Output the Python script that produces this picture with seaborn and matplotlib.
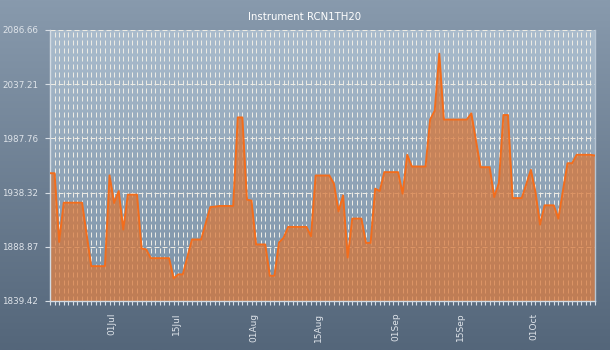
import numpy as np
import pandas as pd
import matplotlib
matplotlib.use("Agg")
import matplotlib.pyplot as plt
import matplotlib.dates as mdates
from matplotlib.ticker import FixedLocator
from matplotlib.transforms import ScaledTranslation
from matplotlib.colors import LinearSegmentedColormap
import seaborn as sns

# ---- data -------------------------------------------------------------
title = "Instrument RCN1TH20"
start_date = "2010-06-18"
values = [
    1956.0, 1956.0, 1893.3, 1929.1, 1929.1, 1929.1, 1929.1, 1929.1, 1900.2, 1871.2,
    1871.2, 1871.2, 1871.2, 1954.0, 1928.8, 1939.7, 1904.6, 1936.4, 1936.4, 1936.4,
    1887.3, 1886.5, 1878.5, 1878.5, 1878.5, 1878.5, 1878.5, 1860.1, 1863.7, 1863.7,
    1879.6, 1895.5, 1895.5, 1895.5, 1910.3, 1925.1, 1925.5, 1926.1, 1926.1, 1926.1,
    1926.1, 2006.9, 2006.9, 1931.9, 1931.0, 1891.0, 1891.0, 1891.0, 1862.4, 1862.4,
    1892.8, 1897.0, 1907.0, 1907.0, 1907.0, 1907.0, 1907.0, 1898.5, 1953.9, 1953.9,
    1953.9, 1953.9, 1946.4, 1921.2, 1935.8, 1879.1, 1914.6, 1914.6, 1914.6, 1892.4,
    1892.4, 1941.9, 1939.7, 1957.0, 1957.0, 1957.0, 1957.0, 1937.3, 1972.8, 1962.1,
    1962.1, 1962.1, 1962.1, 2004.9, 2013.0, 2065.1, 2004.9, 2004.9, 2004.9, 2004.9,
    2004.9, 2004.9, 2010.6, 1986.0, 1961.5, 1961.5, 1961.5, 1934.2, 1947.0, 2009.1,
    2009.1, 1933.3, 1933.3, 1933.3, 1946.0, 1959.1, 1938.8, 1909.1, 1926.7, 1926.7,
    1926.7, 1914.6, 1940.0, 1965.1, 1965.1, 1972.8, 1972.8, 1972.8, 1972.8, 1972.1,
]
y_ticks = [1839.42, 1888.87, 1938.32, 1987.76, 2037.21, 2086.66]
x_tick_dates = ["2010-07-01", "2010-07-15", "2010-08-01", "2010-08-15",
                "2010-09-01", "2010-09-15", "2010-10-01"]

dates = pd.date_range(start_date, periods=len(values), freq="D")
df = pd.DataFrame({"date": dates, "value": values})

# ---- style --------------------------------------------------------------
sns.set_style("ticks")
plt.rcParams["font.family"] = ["DejaVu Sans"]

W, H = 610, 350
fig = plt.figure(figsize=(W / 100, H / 100), dpi=100)

grad = np.linspace(0, 1, 256).reshape(-1, 1)

# figure background gradient
bg = fig.add_axes([0, 0, 1, 1], zorder=-10)
bg.axis("off")
bg.imshow(grad, aspect="auto", origin="upper", extent=[0, 1, 0, 1],
          cmap=LinearSegmentedColormap.from_list("fig_bg", ["#889aad", "#54667a"]))

rect = [50 / W, 49 / H, 545 / W, 271 / H]

# plot-area background gradient
pbg = fig.add_axes(rect, zorder=-5)
pbg.axis("off")
pbg.imshow(grad, aspect="auto", origin="upper", extent=[0, 1, 0, 1],
           cmap=LinearSegmentedColormap.from_list("plot_bg", ["#aabccd", "#7b91a6"]))

ax = fig.add_axes(rect)
ax.set_facecolor("none")

# filled area + outline
ax.fill_between(df["date"], df["value"], y_ticks[0], color="#d7773a",
                alpha=0.75, linewidth=0, zorder=2)
sns.lineplot(data=df, x="date", y="value", ax=ax, color="#f36d1c",
             linewidth=1.4, zorder=3)

ax.set_xlim(dates[0], dates[-1])
ax.set_ylim(y_ticks[0], y_ticks[-1])
ax.set_xlabel("")
ax.set_ylabel("")

# ticks
ax.set_yticks(y_ticks)
ax.set_yticklabels([f"{v:.2f}" for v in y_ticks])
ax.xaxis.set_major_locator(FixedLocator(mdates.date2num(pd.to_datetime(x_tick_dates))))
ax.xaxis.set_major_formatter(mdates.DateFormatter("%d%b"))
ax.xaxis.set_minor_locator(mdates.DayLocator())

tick_col = "#d6dde5"
label_col = "#dfe4ea"
ax.tick_params(axis="x", which="both", direction="out", length=2.9, width=0.8,
               color=tick_col, labelcolor=label_col, labelsize=6.5,
               labelrotation=90, pad=5.5)
ax.tick_params(axis="y", which="major", direction="out", length=3.6, width=0.8,
               color=tick_col, labelcolor=label_col, labelsize=6.3, pad=5)

# nudge the rotated date labels slightly to the right of their ticks
shift = ScaledTranslation(2.5 / 100, 0, fig.dpi_scale_trans)
for lbl in ax.get_xticklabels():
    lbl.set_transform(lbl.get_transform() + shift)

# dashed grid
grid_kw = dict(color="#ecebe4", linewidth=0.72, linestyle=(0, (5, 3)))
ax.set_axisbelow(True)
ax.grid(True, which="both", axis="x", **grid_kw)
ax.grid(True, which="major", axis="y", **grid_kw)

for side in ("left", "bottom"):
    ax.spines[side].set_color("#d3dbe3")
    ax.spines[side].set_linewidth(1.0)
ax.spines["right"].set_visible(True)
ax.spines["right"].set_color("#b7c5d3")
ax.spines["right"].set_linewidth(1.0)
ax.spines["top"].set_visible(False)

fig.text(0.5, 1 - 17 / H, title, ha="center", va="center",
         color="white", fontsize=7.3)

fig.savefig("out.png", dpi=100)
